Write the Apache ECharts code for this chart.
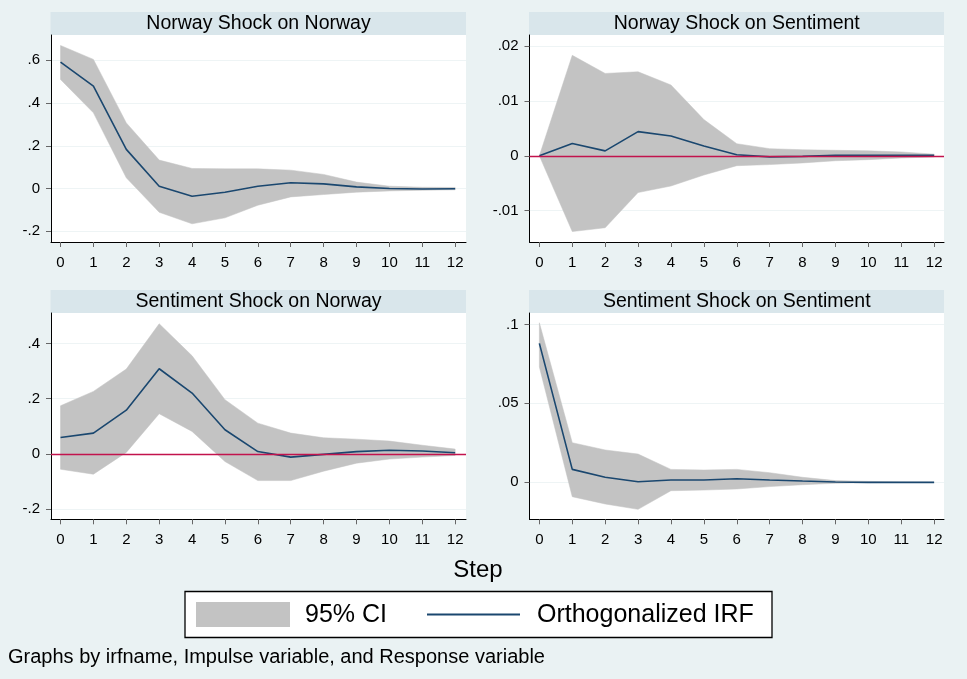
<!DOCTYPE html>
<html>
<head>
<meta charset="utf-8">
<script src="https://cdn.jsdelivr.net/npm/echarts@6/dist/echarts.min.js"></script>
<style>
html,body{margin:0;padding:0;background:#eaf2f3;}
#chart{width:967px;height:679px;}
</style>
</head>
<body>
<div id="chart"></div>
<script>
// ---- data ----
var steps = [0,1,2,3,4,5,6,7,8,9,10,11,12];
var xTicks = [0,1,2,3,4,5,6,7,8,9,10,11,12];

var panelTitles = ['Norway Shock on Norway','Norway Shock on Sentiment','Sentiment Shock on Norway','Sentiment Shock on Sentiment'];

// Norway shock on Norway
var irfNN = [0.591, 0.479, 0.183, 0.011, -0.036, -0.017, 0.011, 0.027, 0.022, 0.008, 0.000, -0.002, -0.001];
var upNN  = [0.669, 0.604, 0.307, 0.133, 0.094, 0.092, 0.092, 0.086, 0.066, 0.030, 0.011, 0.006, 0.005];
var loNN  = [0.510, 0.354, 0.050, -0.111, -0.165, -0.137, -0.078, -0.039, -0.028, -0.017, -0.011, -0.008, -0.006];
var yTicksNN = [-0.2, 0, 0.2, 0.4, 0.6];

// Norway shock on Sentiment
var irfNS = [0, 0.00225, 0.0009, 0.0044, 0.0036, 0.0018, 0.0002, -0.0002, -0.0001, 0.0001, 0.0001, 0.0001, 0.0001];
var upNS  = [0, 0.0183, 0.0150, 0.0153, 0.0129, 0.0066, 0.0022, 0.0013, 0.0011, 0.0010, 0.0009, 0.0007, 0.0003];
var loNS  = [0, -0.0138, -0.0131, -0.0067, -0.0055, -0.0035, -0.0018, -0.0016, -0.0013, -0.0009, -0.0007, -0.0004, -0.0002];
var yTicksNS = [-0.01, 0, 0.01, 0.02];

// Sentiment shock on Norway
var irfSN = [0.059, 0.075, 0.158, 0.308, 0.220, 0.087, 0.008, -0.012, -0.002, 0.008, 0.013, 0.010, 0.004];
var upSN  = [0.174, 0.226, 0.307, 0.471, 0.355, 0.196, 0.111, 0.075, 0.058, 0.053, 0.046, 0.031, 0.017];
var loSN  = [-0.056, -0.074, 0.005, 0.145, 0.081, -0.028, -0.097, -0.097, -0.063, -0.034, -0.019, -0.012, -0.006];
var yTicksSN = [-0.2, 0, 0.2, 0.4];

// Sentiment shock on Sentiment
var irfSS = [0.088, 0.0082, 0.0032, 0.0004, 0.0015, 0.0015, 0.0023, 0.0015, 0.0008, 0.0002, 0, 0, 0];
var upSS  = [0.101, 0.0251, 0.0205, 0.0179, 0.0082, 0.0078, 0.0082, 0.0061, 0.0032, 0.0011, 0.0006, 0.0002, 0];
var loSS  = [0.073, -0.0091, -0.0137, -0.0171, -0.0053, -0.0049, -0.0042, -0.0027, -0.0015, -0.0006, -0.0002, 0, 0];
var yTicksSS = [0, 0.05, 0.1];

var legendLabels = ['95% CI', 'Orthogonalized IRF'];
var xTitle = 'Step';
var note = 'Graphs by irfname, Impulse variable, and Response variable';

// ---- layout / style ----
var FONT = '"Liberation Sans", Arial, Helvetica, sans-serif';
var BG = '#eaf2f3', STRIP = '#d9e6eb', CI = '#c3c3c3', LINE = '#1a476f', REF = '#c2134d';

var panels = [
  {irf: irfNN, up: upNN, lo: loNN, ticks: yTicksNN, ymin: -0.25,  ymax: 0.718, zero: false,
   grid: {left: 51, top: 35, width: 415, height: 207}, xmin: -0.29, xmax: 12.33},
  {irf: irfNS, up: upNS, lo: loNS, ticks: yTicksNS, ymin: -0.0157, ymax: 0.0220, zero: true,
   grid: {left: 529.5, top: 35, width: 414.5, height: 207}, xmin: -0.3, xmax: 12.3},
  {irf: irfSN, up: upSN, lo: loSN, ticks: yTicksSN, ymin: -0.2373, ymax: 0.51, zero: true,
   grid: {left: 51, top: 313, width: 415, height: 206.3}, xmin: -0.29, xmax: 12.33},
  {irf: irfSS, up: upSS, lo: loSS, ticks: yTicksSS, ymin: -0.0234, ymax: 0.1072, zero: false,
   grid: {left: 529.5, top: 313, width: 414.5, height: 206.3}, xmin: -0.3, xmax: 12.3}
];

function fmtY(v){
  if (Math.abs(v) < 1e-12) return '0';
  var s = String(+v.toPrecision(6));
  return s.replace(/^(-?)0\./, '$1.');
}

var grids = [], xAxes = [], yAxes = [], series = [], graphics = [];

function makeBandRenderer(p){
  return function(params, api){
    if (params.dataIndex !== 0) return null;
    var n = params.dataInsideLength || steps.length;
    var pts = [], k;
    for (k = 0; k < steps.length; k++) pts.push(api.coord([steps[k], p.up[k]]));
    for (k = steps.length - 1; k >= 0; k--) pts.push(api.coord([steps[k], p.lo[k]]));
    return {type: 'polygon', shape: {points: pts}, style: {fill: CI, stroke: CI, lineWidth: 0.5}, silent: true};
  };
}

panels.forEach(function(p, i){
  grids.push({left: p.grid.left, top: p.grid.top, width: p.grid.width, height: p.grid.height,
              show: true, backgroundColor: '#ffffff', borderWidth: 0});
  xAxes.push({
    type: 'value', gridIndex: i, min: p.xmin, max: p.xmax,
    axisLine: {show: true, onZero: false, lineStyle: {color: '#000', width: 1}},
    axisTick: {show: true, length: 5, customValues: xTicks, lineStyle: {color: '#666'}},
    axisLabel: {show: true, customValues: xTicks, margin: 13, color: '#000', fontSize: 15, fontFamily: FONT,
                formatter: function(v){ return String(v); }},
    splitLine: {show: false}
  });
  yAxes.push({
    type: 'value', gridIndex: i, min: p.ymin, max: p.ymax,
    axisLine: {show: true, onZero: false, lineStyle: {color: '#000', width: 1}},
    axisTick: {show: true, length: 5, customValues: p.ticks, lineStyle: {color: '#666'}},
    axisLabel: {show: true, customValues: p.ticks, margin: 11, color: '#000', fontSize: 15, fontFamily: FONT,
                formatter: fmtY},
    splitLine: {show: true, lineStyle: {color: '#eef4f5', width: 1}}
  });

  var bandData = steps.map(function(s, k){ return [s, p.lo[k], p.up[k]]; });
  var irfData = steps.map(function(s, k){ return [s, p.irf[k]]; });

  series.push({
    name: legendLabels[0], type: 'custom', xAxisIndex: i, yAxisIndex: i,
    data: bandData, encode: {x: 0, y: [1, 2]}, renderItem: makeBandRenderer(p),
    silent: true, z: 2
  });
  var lineSeries = {
    name: legendLabels[1], type: 'line', xAxisIndex: i, yAxisIndex: i,
    data: irfData, symbol: 'none', silent: true,
    lineStyle: {color: LINE, width: 1.6}, itemStyle: {color: LINE}, z: 4
  };
  if (p.zero) {
    lineSeries.markLine = {
      silent: true, symbol: ['none', 'none'], label: {show: false},
      lineStyle: {color: REF, width: 1.3, type: 'solid'},
      data: [{yAxis: 0}]
    };
  }
  series.push(lineSeries);

  // title strip
  graphics.push({type: 'rect', shape: {x: p.grid.left - 0.5, y: p.grid.top - 23, width: p.grid.width + 0.5, height: 23},
                 style: {fill: STRIP}, silent: true});
  graphics.push({type: 'text', x: p.grid.left + p.grid.width / 2, y: p.grid.top - 11.5,
                 style: {text: panelTitles[i], fill: '#000', font: '19.5px ' + FONT, align: 'center', verticalAlign: 'middle'},
                 silent: true});
});

// x title
graphics.push({type: 'text', x: 478, y: 570,
               style: {text: xTitle, fill: '#000', font: '24px ' + FONT, align: 'center', verticalAlign: 'middle'}});
// legend
graphics.push({type: 'rect', shape: {x: 185, y: 591.5, width: 587, height: 46},
               style: {fill: '#ffffff', stroke: '#000', lineWidth: 1.3}});
graphics.push({type: 'rect', shape: {x: 196, y: 602, width: 94, height: 25}, style: {fill: CI}});
graphics.push({type: 'text', x: 305, y: 615,
               style: {text: legendLabels[0], fill: '#000', font: '25px ' + FONT, align: 'left', verticalAlign: 'middle'}});
graphics.push({type: 'line', shape: {x1: 427, y1: 614.5, x2: 520, y2: 614.5},
               style: {stroke: LINE, lineWidth: 2}});
graphics.push({type: 'text', x: 537, y: 615,
               style: {text: legendLabels[1], fill: '#000', font: '25px ' + FONT, align: 'left', verticalAlign: 'middle'}});
// note
graphics.push({type: 'text', x: 8, y: 657,
               style: {text: note, fill: '#000', font: '20px ' + FONT, align: 'left', verticalAlign: 'middle'}});

var chart = echarts.init(document.getElementById('chart'), null, {renderer: 'canvas'});
chart.setOption({
  backgroundColor: BG,
  animation: false,
  grid: grids,
  xAxis: xAxes,
  yAxis: yAxes,
  series: series,
  graphic: graphics
});
</script>
</body>
</html>
